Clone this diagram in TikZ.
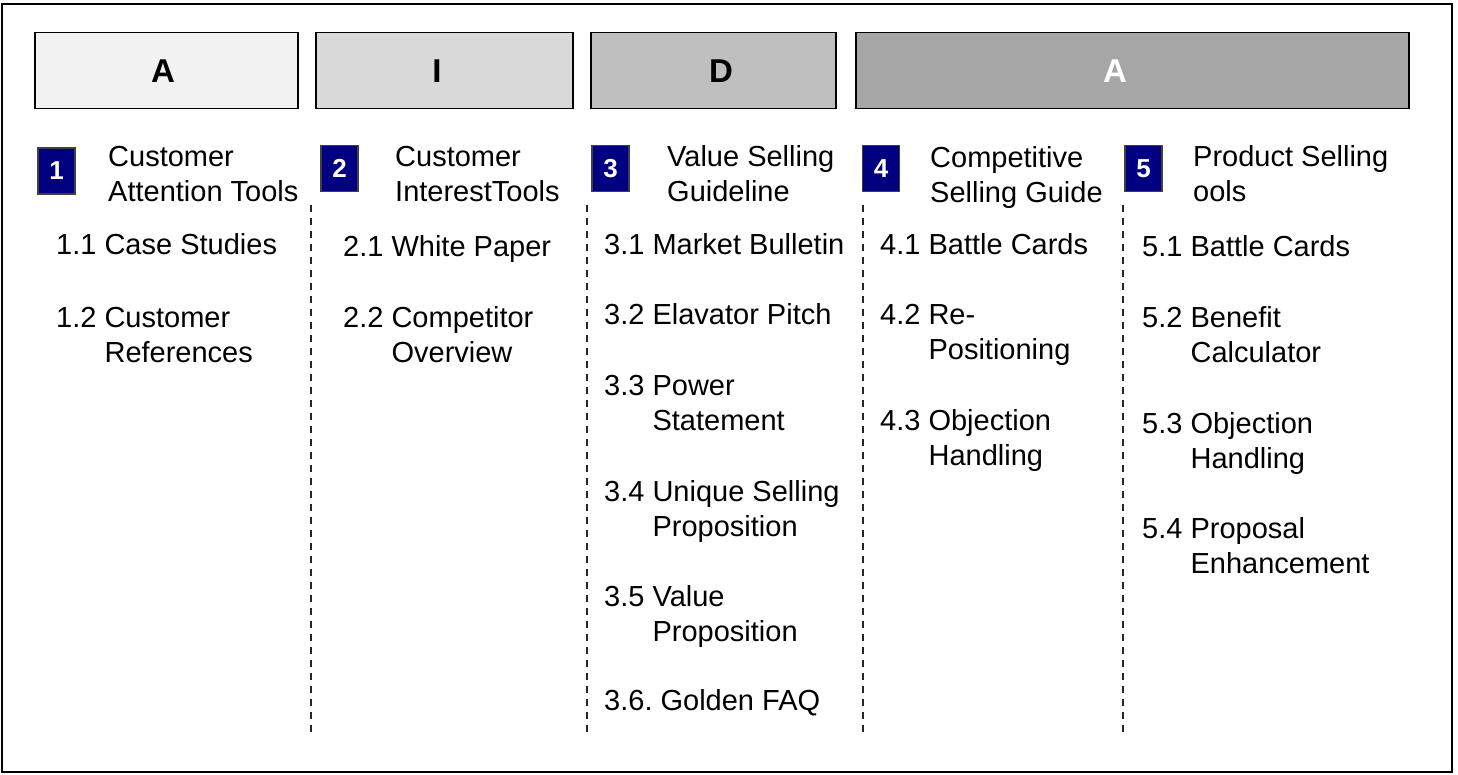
\documentclass[tikz,border=0pt]{standalone}
\usepackage{fontspec}
\setmainfont{Liberation Sans}
\frenchspacing
\definecolor{navyblue}{RGB}{0,0,128}
\definecolor{hdrA}{RGB}{242,242,242}
\definecolor{hdrI}{RGB}{217,217,217}
\definecolor{hdrD}{RGB}{191,191,191}
\definecolor{hdrAA}{RGB}{166,166,166}
\newcommand{\itm}[3]{\begin{tabular}[t]{@{}l@{\ }l@{}}#1 & #2\\ & #3\end{tabular}}
\newcommand{\ttl}[2]{\begin{tabular}[t]{@{}l@{}}#1\\#2\end{tabular}}
\begin{document}
\begin{tikzpicture}[x=1pt,y=-1pt,
  hdrbox/.style={draw=black, line width=1.6pt, minimum width=#1, minimum height=76pt, inner sep=0pt},
  hdrtxt/.style={font=\fontsize{33}{33}\selectfont\bfseries, inner sep=0pt},
  numbox/.style={draw=black!75, line width=1.5pt, fill=navyblue, minimum width=37pt, minimum height=46pt, inner sep=0pt, text=white, font=\fontsize{26}{26}\selectfont\bfseries},
  txt/.style={anchor=base west, inner sep=0pt, font=\fontsize{29}{35}\selectfont},
  sep/.style={dash pattern=on 7pt off 6pt, line width=1.3pt, black!85}
]
\useasboundingbox (0,0) rectangle (1458,775);
\draw[line width=2pt] (2,4) rectangle (1452,772);

% headers
\node[hdrbox=263pt, fill=hdrA] (h1) at (166.5,70.5) {};
\node[hdrbox=257pt, fill=hdrI] (h2) at (444.5,70.5) {};
\node[hdrbox=245pt, fill=hdrD] (h3) at (713.5,70.5) {};
\node[hdrbox=553pt, fill=hdrAA] (h4) at (1132.5,70.5) {};
\node[hdrtxt] (l1) at (163,71) {A};
\node[hdrtxt] (l2) at (437,71) {I};
\node[hdrtxt] (l3) at (721,71) {D};
\node[hdrtxt, text=white] (l4) at (1115,71) {A};

% number squares
\node[numbox] (n1) at (56.5,171) {1};
\node[numbox] (n2) at (339.5,168.5) {2};
\node[numbox] (n3) at (610.5,168.5) {3};
\node[numbox] (n4) at (881,168.5) {4};
\node[numbox] (n5) at (1143.5,168.5) {5};

% titles
\node[txt] (t1) at (108,167) {\ttl{Customer}{Attention Tools}};
\node[txt] (t2) at (395,167) {\ttl{Customer}{InterestTools}};
\node[txt] (t3) at (667,167) {\ttl{Value Selling}{Guideline}};
\node[txt] (t4) at (930,168) {\ttl{Competitive}{Selling Guide}};
\node[txt] (t5) at (1193,167) {\ttl{Product Selling}{ools}};

% column 1
\node[txt] (i11) at (56,255) {1.1 Case Studies};
\node[txt] (i12) at (56,327) {\itm{1.2}{Customer}{References}};
% column 2
\node[txt] (i21) at (343,257) {2.1 White Paper};
\node[txt] (i22) at (343,327) {\itm{2.2}{Competitor}{Overview}};
% column 3
\node[txt] (i31) at (604,255) {3.1 Market Bulletin};
\node[txt] (i32) at (604,325) {3.2 Elavator Pitch};
\node[txt] (i33) at (604,395) {\itm{3.3}{Power}{Statement}};
\node[txt] (i34) at (604,501) {\itm{3.4}{Unique Selling}{Proposition}};
\node[txt] (i35) at (604,606) {\itm{3.5}{Value}{Proposition}};
\node[txt] (i36) at (604,710) {3.6. Golden FAQ};
% column 4
\node[txt] (i41) at (880,255) {4.1 Battle Cards};
\node[txt] (i42) at (880,325) {\itm{4.2}{Re-}{Positioning}};
\node[txt] (i43) at (880,430) {\itm{4.3}{Objection}{Handling}};
% column 5
\node[txt] (i51) at (1142,257) {5.1 Battle Cards};
\node[txt] (i52) at (1142,327) {\itm{5.2}{Benefit}{Calculator}};
\node[txt] (i53) at (1142,433) {\itm{5.3}{Objection}{Handling}};
\node[txt] (i54) at (1142,538) {\itm{5.4}{Proposal}{Enhancement}};

% dashed separators
\coordinate (s1t) at (311,205); \coordinate (s1b) at (311,734);
\coordinate (s2t) at (587,205); \coordinate (s2b) at (587,734);
\coordinate (s3t) at (863,205); \coordinate (s3b) at (863,734);
\coordinate (s4t) at (1123,205); \coordinate (s4b) at (1123,734);
\draw[sep] (s1t) -- (s1b);
\draw[sep] (s2t) -- (s2b);
\draw[sep] (s3t) -- (s3b);
\draw[sep] (s4t) -- (s4b);
\end{tikzpicture}
\end{document}
